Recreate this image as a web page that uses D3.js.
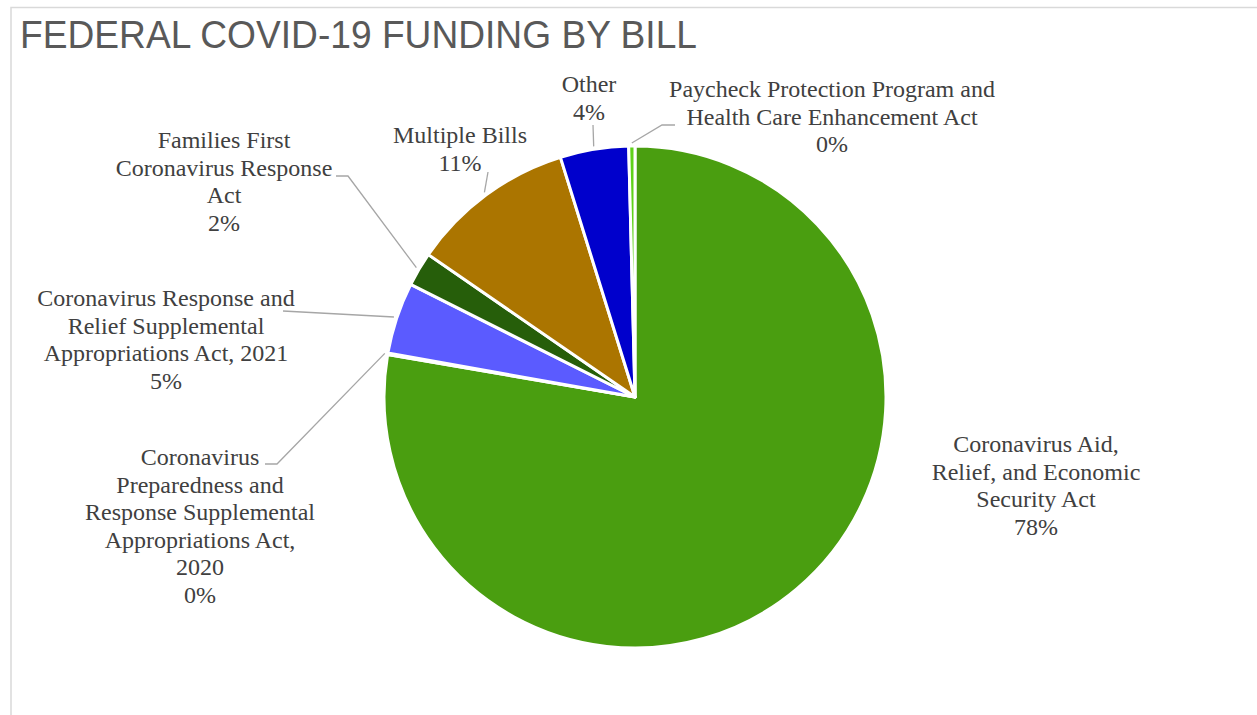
<!doctype html>
<html lang="en">
<head>
    <meta charset="utf-8">
    <script src="https://d3js.org/d3.v7.min.js"></script>
    <style>
        body { margin: 0; background: #fff; }
        svg { display: block; }
        .lbl { font-family: "Liberation Serif", "Times New Roman", serif; font-size: 24px; fill: #404040; }
        .title { font-family: "Liberation Sans", Arial, sans-serif; font-size: 39px; fill: #595959; }
    </style>
    <title>Federal COVID-19 Funding by Bill</title>
</head>
<body>
<script>

    // data, clockwise from 12 o'clock
    var bills = [
        ["Coronavirus Aid,", "Relief, and Economic", "Security Act"],
        ["Coronavirus", "Preparedness and", "Response Supplemental", "Appropriations Act,", "2020"],
        ["Coronavirus Response and", "Relief Supplemental", "Appropriations Act, 2021"],
        ["Families First", "Coronavirus Response", "Act"],
        ["Multiple Bills"],
        ["Other"],
        ["Paycheck Protection Program and", "Health Care Enhancement Act"]
    ];
    var shares = [77.7, 0.1, 4.6, 2.2, 10.6, 4.4, 0.4];
    var colors = ["#4a9e10", "#8c8c8c", "#5b5bff", "#265e0a", "#ab7500", "#0000cc", "#5fd21a"];

    // label placement (center x, first baseline) and leader line points on the label side
    var labelPos = [
        {x: 1036, y: 452, lead: null},
        {x: 200, y: 465, lead: [[265, 464], [277, 464]]},
        {x: 166, y: 306, lead: [[283, 311]]},
        {x: 224, y: 148, lead: [[336, 176], [348, 176]]},
        {x: 460, y: 143, lead: [[488, 172]]},
        {x: 589, y: 92, lead: [[593, 125]]},
        {x: 832, y: 97, lead: [[675, 125], [662, 125]]}
    ];

    var width = 1257, height = 715,
        cx = 635, cy = 397, radius = 251,
        lineH = 27.6;

    var svg = d3.select("body").append("svg")
        .attr("width", width)
        .attr("height", height);

    // chart frame
    svg.append("rect")
        .attr("x", 11).attr("y", 7.5)
        .attr("width", width + 10).attr("height", height + 10)
        .attr("fill", "none")
        .attr("stroke", "#d9d9d9")
        .attr("stroke-width", 1.5);

    svg.append("text")
        .attr("class", "title")
        .attr("x", 20).attr("y", 48)
        .attr("textLength", 677)
        .attr("lengthAdjust", "spacingAndGlyphs")
        .text("FEDERAL COVID-19 FUNDING BY BILL");

    var total = d3.sum(shares);
    var pie = d3.pie().sort(null).startAngle(0).endAngle(2 * Math.PI);
    var arcs = pie(shares);
    var arc = d3.arc().innerRadius(0).outerRadius(radius);

    var g = svg.append("g").attr("transform", "translate(" + cx + "," + cy + ")");

    g.selectAll("path.slice")
        .data(arcs)
        .enter().append("path")
        .attr("class", "slice")
        .attr("d", arc)
        .attr("fill", function(d, i) { return colors[i]; })
        .attr("stroke", "#fff")
        .attr("stroke-width", 3)
        .attr("stroke-linejoin", "round");

    // leader lines
    var line = d3.line();
    arcs.forEach(function(d, i) {
        var p = labelPos[i];
        if (!p.lead) return;
        var a = (d.startAngle + d.endAngle) / 2;
        var edge = [cx + (radius + 3) * Math.sin(a), cy - (radius + 3) * Math.cos(a)];
        svg.append("path")
            .attr("d", line(p.lead.concat([edge])))
            .attr("fill", "none")
            .attr("stroke", "#a6a6a6")
            .attr("stroke-width", 1.3);
    });

    // data labels
    var fmt = d3.format(".0%");
    arcs.forEach(function(d, i) {
        var p = labelPos[i];
        var lines = bills[i].concat([fmt(shares[i] / total)]);
        var t = svg.append("text")
            .attr("class", "lbl")
            .attr("text-anchor", "middle");
        lines.forEach(function(s, k) {
            t.append("tspan")
                .attr("x", p.x)
                .attr("y", p.y + k * lineH)
                .text(s);
        });
    });

</script>
</body>
</html>
